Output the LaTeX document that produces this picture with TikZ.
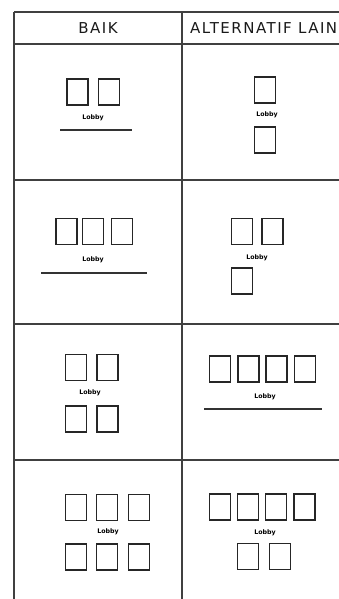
\documentclass[tikz,border=0pt]{standalone}
\usepackage{fontspec}
\setmainfont{DejaVu Sans}
\newfontfamily\headfont[LetterSpace=10]{DejaVu Sans}

\begin{document}
\begin{tikzpicture}[x=1pt,y=-1pt,
    grid/.style={line width=1.6pt, black!75},
    street/.style={line width=1.3pt, black!80},
    room/.style={draw=black!85, line width=1.1pt, minimum width=21pt, minimum height=26pt, inner sep=0pt},
    lobby/.style={font=\fontsize{6.3}{6.3}\selectfont\bfseries, inner sep=0pt},
    head/.style={font=\headfont\fontsize{15}{16}\selectfont, text=black!90, inner sep=0pt}]

    \useasboundingbox (0,0) rectangle (339,599);

    % table
    \foreach \y in {12,44,180,324,460} {
        \draw[grid] (14,\y) -- (339,\y);
    }
    \foreach \x in {14,182} {
        \draw[grid] (\x,12) -- (\x,599);
    }
    \node[head] (baik) at (98,28) {BAIK};
    \node[head, anchor=west] (alt) at (190,28) {ALTERNATIF LAIN};

    % row 1
    \foreach \a/\b [count=\i] in {77.5/92, 109/92} {
        \node[room] (ba-\i) at (\a,\b) {};
    }
    \node[lobby] (lba) at (93,118) {Lobby};
    \draw[street] (60,130) -- (132,130);

    \foreach \a/\b [count=\i] in {265/90, 265/140} {
        \node[room] (aa-\i) at (\a,\b) {};
    }
    \node[lobby] (laa) at (267,115) {Lobby};

    % row 2
    \foreach \a/\b [count=\i] in {66.5/231.5, 93/231.5, 122/231.5} {
        \node[room] (bb-\i) at (\a,\b) {};
    }
    \node[lobby] (lbb) at (93,260) {Lobby};
    \draw[street] (41,273) -- (147,273);

    \foreach \a/\b [count=\i] in {242/231.5, 272.5/231.5, 242/281} {
        \node[room] (ab-\i) at (\a,\b) {};
    }
    \node[lobby] (lab) at (257,258) {Lobby};

    % row 3
    \foreach \a/\b [count=\i] in {76/367.5, 107.5/367.5, 76/419, 107.5/419} {
        \node[room] (bc-\i) at (\a,\b) {};
    }
    \node[lobby] (lbc) at (90,393) {Lobby};

    \foreach \a/\b [count=\i] in {220/369, 248.5/369, 276.5/369, 305/369} {
        \node[room] (ac-\i) at (\a,\b) {};
    }
    \node[lobby] (lac) at (265,397) {Lobby};
    \draw[street] (204,409) -- (322,409);

    % row 4
    \foreach \a/\b [count=\i] in {76/507.5, 107/507.5, 139/507.5, 76/557, 107/557, 139/557} {
        \node[room] (bd-\i) at (\a,\b) {};
    }
    \node[lobby] (lbd) at (108,532) {Lobby};

    \foreach \a/\b [count=\i] in {220/507, 248/507, 276/507, 304.5/507, 248/556.5, 280/556.5} {
        \node[room] (ad-\i) at (\a,\b) {};
    }
    \node[lobby] (lad) at (265,533) {Lobby};

\end{tikzpicture}
\end{document}
